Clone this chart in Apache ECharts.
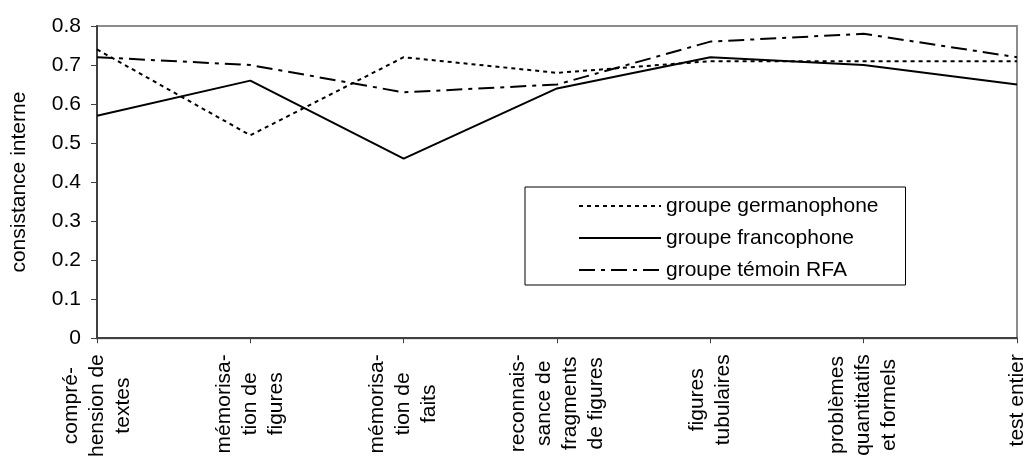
<!DOCTYPE html>
<html>
<head>
<meta charset="utf-8">
<script src="https://cdn.jsdelivr.net/npm/echarts@6/dist/echarts.min.js"></script>
<style>
html,body{margin:0;padding:0;background:#fff;}
#chart{width:1030px;height:460px;}
</style>
</head>
<body>
<div id="chart"></div>
<script>
const categories = [
  "compré-\nhension de\ntextes",
  "mémorisa-\ntion de\nfigures",
  "mémorisa-\ntion de\nfaits",
  "reconnais-\nsance de\nfragments\nde figures",
  "figures\ntubulaires",
  "problèmes\nquantitatifs\net formels",
  "test entier"
];
const seriesNames = ["groupe germanophone", "groupe francophone", "groupe témoin RFA"];
const germanophone = [0.74, 0.52, 0.72, 0.68, 0.71, 0.71, 0.71];
const francophone = [0.57, 0.66, 0.46, 0.64, 0.72, 0.70, 0.65];
const temoinRFA = [0.72, 0.70, 0.63, 0.65, 0.76, 0.78, 0.72];
const yTicks = [0, 0.1, 0.2, 0.3, 0.4, 0.5, 0.6, 0.7, 0.8];

const FONT = "'Liberation Sans', Arial, sans-serif";
const chart = echarts.init(document.getElementById('chart'));
const dashStyles = [[4, 4], 'solid', [16, 6, 4, 6]];
const dataSets = [germanophone, francophone, temoinRFA];

chart.setOption({
  animation: false,
  backgroundColor: '#fff',
  textStyle: { fontFamily: FONT, color: '#000' },
  grid: {
    left: 97, right: 10, top: 26, bottom: 117,
    show: true, borderColor: '#8c8c8c', borderWidth: 2, backgroundColor: 'transparent'
  },
  legend: {
    orient: 'vertical',
    left: 525, top: 187,
    padding: [8, 27, 4, 53],
    itemWidth: 82, itemHeight: 14,
    itemGap: 10,
    backgroundColor: '#fff',
    borderColor: '#000', borderWidth: 1,
    borderRadius: 0,
    itemStyle: { opacity: 0 },
    textStyle: { fontFamily: FONT, fontSize: 21, color: '#000', lineHeight: 22 },
    data: seriesNames
  },
  xAxis: {
    type: 'category',
    data: categories,
    boundaryGap: false,
    axisLine: { lineStyle: { color: '#404040', width: 2 } },
    axisTick: { show: true, length: 5, lineStyle: { color: '#404040', width: 1 } },
    axisLabel: {
      rotate: 90, margin: 16, interval: 0,
      fontFamily: FONT, fontSize: 21, color: '#000', lineHeight: 26,
      formatter: function (v) {
        return v.split('\n').map(function (s) { return '{c|' + s + '}'; }).join('\n');
      },
      rich: { c: { align: 'center', fontFamily: FONT, fontSize: 21, lineHeight: 26, color: '#000' } }
    },
    splitLine: { show: false }
  },
  yAxis: {
    type: 'value',
    min: 0, max: 0.8, interval: 0.1,
    name: 'consistance interne',
    nameLocation: 'middle',
    nameRotate: 90,
    nameGap: 67,
    nameTextStyle: { fontFamily: FONT, fontSize: 21, color: '#000' },
    axisLine: { show: true, lineStyle: { color: '#404040', width: 2 } },
    axisTick: { show: true, length: 6, lineStyle: { color: '#404040', width: 1 } },
    axisLabel: {
      margin: 16, fontFamily: FONT, fontSize: 21, color: '#000',
      formatter: function (v) {
        const t = yTicks.find(function (k) { return Math.abs(k - v) < 1e-9; });
        return t === undefined ? '' : (t === 0 ? '0' : t.toFixed(1));
      }
    },
    splitLine: { show: false }
  },
  series: seriesNames.map(function (name, i) {
    return {
      name: name,
      type: 'line',
      data: dataSets[i],
      symbol: 'none',
      showSymbol: false,
      z: 3 - i,
      lineStyle: { color: '#000', width: 2, type: dashStyles[i] },
      itemStyle: { color: '#000' }
    };
  })
});
</script>
</body>
</html>
